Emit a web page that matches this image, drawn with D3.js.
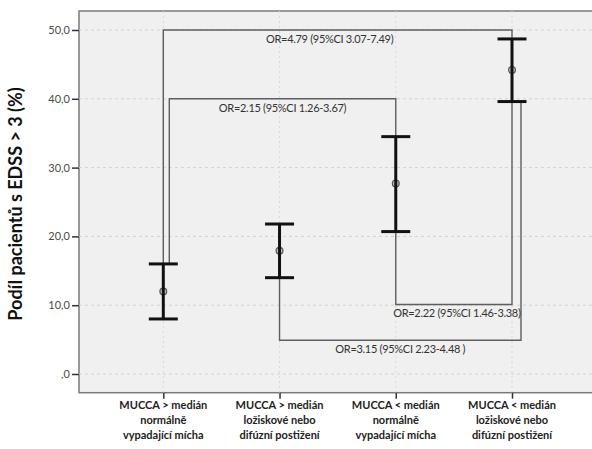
<!DOCTYPE html>
<html>
<head>
<meta charset="utf-8">
<script src="https://cdn.jsdelivr.net/npm/d3@7"></script>
<style>
  body { margin: 0; background: #fff; }
  svg { display: block; font-family: Lato, "Open Sans", sans-serif; }
</style>
</head>
<body>
<div id="container"></div>
<script>
const width = 592;
const height = 449;
const margin = { t: 11, r: 0, b: 56, l: 79 };

const categories = [
  ["MUCCA > medián", "normálně", "vypadající mícha"],
  ["MUCCA > medián", "ložiskové nebo", "difúzní postižení"],
  ["MUCCA < medián", "normálně", "vypadající mícha"],
  ["MUCCA < medián", "ložiskové nebo", "difúzní postižení"]
];
const means = [12.0, 17.9, 27.7, 44.2];
const lower = [8.0, 14.0, 20.7, 39.6];
const upper = [16.0, 21.8, 34.5, 48.7];
const yTicks = [0, 10, 20, 30, 40, 50];

// odds-ratio brackets: from group, to group, level on the y scale
const brLabels = [
  "OR=4.79 (95%CI 3.07-7.49)",
  "OR=2.15 (95%CI 1.26-3.67)",
  "OR=2.22 (95%CI 1.46-3.38)",
  "OR=3.15 (95%CI 2.23-4.48 )"
];
const brFrom = [0, 0, 2, 1];
const brTo = [3, 2, 3, 3];
const brLevel = [50.0, 40.0, 10.1, 4.9];
const brSide = ["top", "top", "bottom", "bottom"];

const x = d3.scalePoint()
  .domain(d3.range(categories.length))
  .range([163.3, 512])
  .padding(0);

const y = d3.scaleLinear()
  .domain([0, 50])
  .range([374, 30]);

const svg = d3.select("#container")
  .append("svg")
  .attr("width", width)
  .attr("height", height);

const plotBottom = 392.7;
const plotRight = width + 2;

svg.append("rect")
  .attr("x", margin.l)
  .attr("y", margin.t)
  .attr("width", plotRight - margin.l)
  .attr("height", plotBottom - margin.t)
  .attr("fill", "#f0f0f0")
  .attr("stroke", "#7a7a7a")
  .attr("stroke-width", 1.5);

// grid
svg.append("g")
  .selectAll("line")
  .data(yTicks)
  .join("line")
  .attr("x1", margin.l)
  .attr("x2", plotRight)
  .attr("y1", d => y(d))
  .attr("y2", d => y(d))
  .attr("stroke", "#d2d2d2")
  .attr("stroke-dasharray", "3,3");

svg.append("g")
  .selectAll("line")
  .data(d3.range(categories.length))
  .join("line")
  .attr("x1", d => x(d))
  .attr("x2", d => x(d))
  .attr("y1", margin.t)
  .attr("y2", plotBottom)
  .attr("stroke", "#d8d8d8")
  .attr("stroke-dasharray", "2,3");

// y axis
const yAxis = svg.append("g")
  .attr("transform", `translate(${margin.l},0)`)
  .call(d3.axisLeft(y).tickValues(yTicks).tickSize(7).tickPadding(2)
    .tickFormat(d => d === 0 ? ",0" : d3.format(".1f")(d).replace(".", ",")));
yAxis.select(".domain").remove();
yAxis.selectAll(".tick line").attr("stroke", "#333").attr("stroke-width", 1.5);
yAxis.selectAll(".tick text")
  .attr("fill", "#4a4a4a")
  .attr("font-size", "11px")
  .attr("font-family", "Lato, sans-serif");

// x axis
const xAxis = svg.append("g")
  .attr("transform", `translate(0,${plotBottom})`)
  .call(d3.axisBottom(x).tickSize(6).tickFormat(""));
xAxis.select(".domain").remove();
xAxis.selectAll(".tick line").attr("stroke", "#333").attr("stroke-width", 1.5);

svg.append("g")
  .selectAll("text")
  .data(categories)
  .join("text")
  .attr("x", (d, i) => x(i))
  .attr("y", 408.5)
  .attr("text-anchor", "middle")
  .attr("font-size", "11px")
  .attr("font-weight", "bold")
  .attr("fill", "#222")
  .selectAll("tspan")
  .data(d => d)
  .join("tspan")
  .attr("x", function () { return d3.select(this.parentNode).attr("x"); })
  .attr("dy", (d, i) => i === 0 ? 0 : 15)
  .text(d => d);

// y title
svg.append("text")
  .attr("transform", `translate(22,204) rotate(-90)`)
  .attr("text-anchor", "middle")
  .attr("font-size", "18px")
  .attr("font-weight", "bold")
  .attr("fill", "#111")
  .text("Podíl pacientů s EDSS > 3 (%)");

// brackets
const brOffset = [[0, 0], [6, 0], [0, 0], [0, 9]];
const brDx = [-8, 0, 3, 0];
const br = svg.append("g")
  .attr("fill", "none")
  .attr("stroke", "#5e5e5e")
  .attr("stroke-width", 1.4);

brLabels.forEach((lab, k) => {
  const a = brFrom[k], b = brTo[k];
  const xa = x(a) + brOffset[k][0];
  const xb = x(b) + brOffset[k][1];
  const ly = y(brLevel[k]);
  const ya = brSide[k] === "top" ? y(upper[a]) : y(lower[a]);
  const yb = brSide[k] === "top" ? y(upper[b]) : y(lower[b]);
  br.append("path")
    .attr("d", `M${xa},${ya}V${ly}H${xb}V${yb}`);
  svg.append("text")
    .attr("x", (xa + xb) / 2 + brDx[k])
    .attr("y", ly + 10)
    .attr("dominant-baseline", "middle")
    .attr("text-anchor", "middle")
    .attr("font-size", "11px")
    .attr("letter-spacing", "-0.3px")
    .attr("fill", "#333")
    .text(lab);
});

// error bars
const eb = svg.append("g")
  .selectAll("g")
  .data(means)
  .join("g");

eb.append("circle")
  .attr("cx", (d, i) => x(i))
  .attr("cy", d => y(d))
  .attr("r", 3.4)
  .attr("fill", "#bdbdbd")
  .attr("stroke", "#555")
  .attr("stroke-width", 1.2);

eb.append("line")
  .attr("x1", (d, i) => x(i))
  .attr("x2", (d, i) => x(i))
  .attr("y1", (d, i) => y(lower[i]))
  .attr("y2", (d, i) => y(upper[i]))
  .attr("stroke", "#111")
  .attr("stroke-width", 3);

[lower, upper].forEach(arr => {
  eb.append("line")
    .attr("x1", (d, i) => x(i) - 14.5)
    .attr("x2", (d, i) => x(i) + 14.5)
    .attr("y1", (d, i) => y(arr[i]))
    .attr("y2", (d, i) => y(arr[i]))
    .attr("stroke", "#111")
    .attr("stroke-width", 3);
});
</script>
</body>
</html>
